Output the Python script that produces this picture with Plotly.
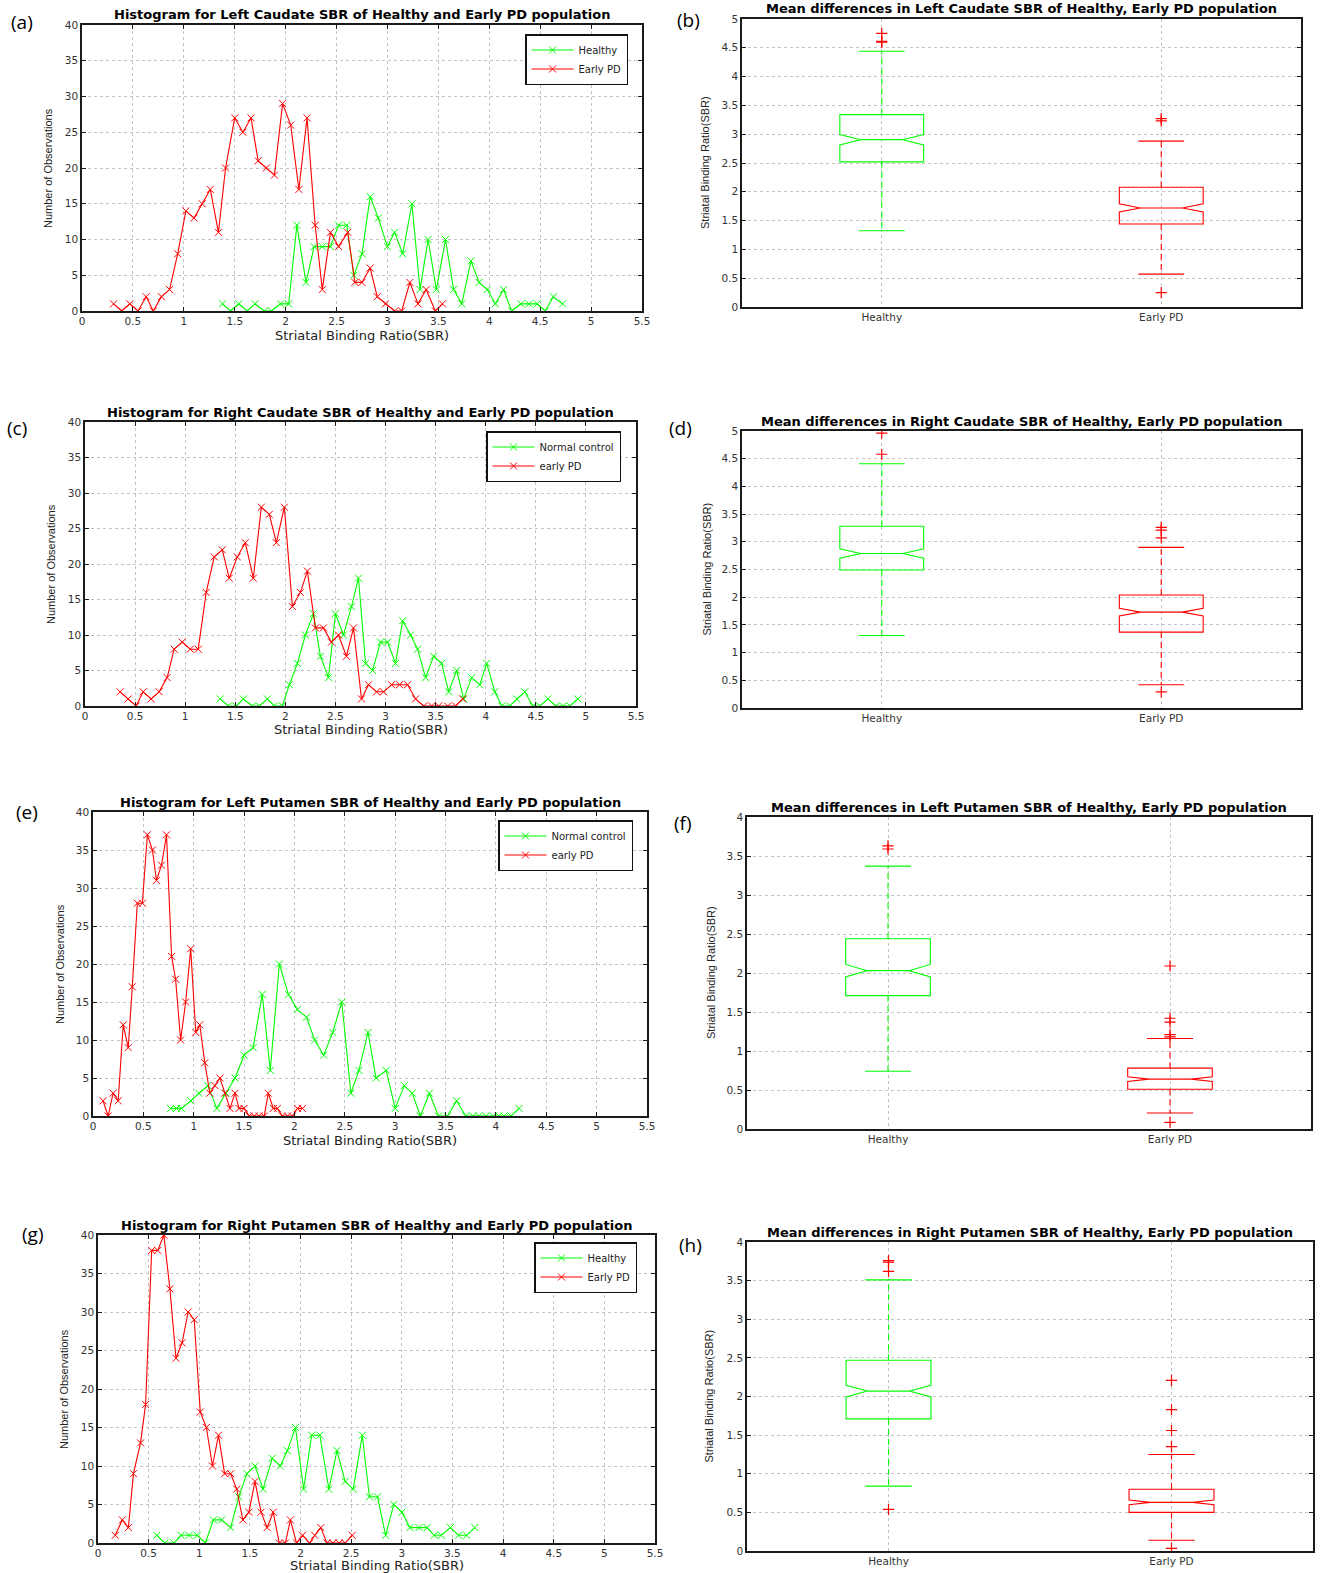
import plotly.graph_objects as go

FIG_W, FIG_H = 1323, 1573
FONT = "Liberation Sans, Arial, sans-serif"
WIDE = "DejaVu Sans, Verdana, sans-serif"
GREEN = "#00ff00"
RED = "#ff0000"

# ---------------- Histogram data (bin centre SBR, counts) ----------------
# (a) Left caudate
a_healthy_x = [1.38, 1.46, 1.54, 1.62, 1.70, 1.79, 1.86, 1.95, 2.03, 2.11, 2.20, 2.28, 2.36, 2.44,
               2.52, 2.60, 2.67, 2.75, 2.83, 2.91, 3.00, 3.07, 3.15, 3.24, 3.32, 3.40, 3.48, 3.57,
               3.65, 3.73, 3.82, 3.90, 3.98, 4.06, 4.14, 4.22, 4.31, 4.39, 4.47, 4.55, 4.63, 4.72]
a_healthy_y = [1, 0, 1, 0, 1, 0, 0, 1, 1, 12, 4, 9, 9, 9, 12, 12, 5, 8, 16, 13, 9, 11, 8, 15, 3,
               10, 3, 10, 3, 1, 7, 4, 3, 1, 3, 0, 1, 1, 1, 0, 2, 1]
a_pd_x = [0.31, 0.39, 0.47, 0.55, 0.63, 0.70, 0.78, 0.86, 0.94, 1.02, 1.10, 1.18, 1.26, 1.34,
          1.41, 1.50, 1.58, 1.66, 1.73, 1.81, 1.89, 1.97, 2.05, 2.13, 2.21, 2.29, 2.36, 2.44,
          2.52, 2.61, 2.68, 2.75, 2.83, 2.90, 2.98, 3.07, 3.14, 3.22, 3.30, 3.38, 3.47, 3.54]
a_pd_y = [1, 0, 1, 0, 2, 0, 2, 3, 8, 14, 13, 15, 17, 11, 20, 27, 25, 27, 21, 20, 19, 29, 26, 17,
          27, 12, 3, 11, 9, 11, 4, 4, 6, 2, 1, 0, 0, 4, 1, 3, 0, 1]

# (c) Right caudate
c_healthy_x = [1.35, 1.43, 1.51, 1.58, 1.67, 1.74, 1.82, 1.89, 1.97, 2.04, 2.12, 2.20, 2.28, 2.35,
               2.43, 2.50, 2.58, 2.66, 2.73, 2.80, 2.87, 2.95, 3.02, 3.10, 3.17, 3.25, 3.32, 3.40,
               3.48, 3.56, 3.63, 3.71, 3.78, 3.86, 3.94, 4.01, 4.09, 4.16, 4.24, 4.31, 4.39, 4.47,
               4.54, 4.62, 4.70, 4.77, 4.84, 4.92]
c_healthy_y = [1, 0, 0, 1, 0, 0, 1, 0, 0, 3, 6, 10, 13, 7, 4, 13, 10, 14, 18, 6, 5, 9, 9, 6, 12,
               10, 8, 4, 7, 6, 2, 5, 1, 4, 3, 6, 2, 0, 0, 1, 2, 0, 0, 1, 0, 0, 0, 1]
c_pd_x = [0.35, 0.43, 0.51, 0.58, 0.66, 0.74, 0.82, 0.89, 0.97, 1.05, 1.13, 1.21, 1.29, 1.37,
          1.44, 1.52, 1.60, 1.68, 1.76, 1.84, 1.91, 1.99, 2.07, 2.15, 2.22, 2.30, 2.38, 2.46,
          2.53, 2.61, 2.68, 2.76, 2.83, 2.91, 2.98, 3.06, 3.14, 3.22, 3.30, 3.38, 3.46, 3.53,
          3.62, 3.70, 3.77]
c_pd_y = [2, 1, 0, 2, 1, 2, 4, 8, 9, 8, 8, 16, 21, 22, 18, 21, 23, 18, 28, 27, 23, 28, 14, 16,
          19, 11, 11, 9, 10, 7, 11, 1, 3, 2, 2, 3, 3, 3, 1, 0, 0, 0, 0, 0, 1]

# (e) Left putamen
e_healthy_x = [0.77, 0.83, 0.88, 0.97, 1.05, 1.14, 1.23, 1.32, 1.41, 1.50, 1.59, 1.68, 1.76, 1.85,
               1.94, 2.03, 2.12, 2.20, 2.29, 2.38, 2.47, 2.56, 2.64, 2.73, 2.81, 2.91, 3.00, 3.09,
               3.17, 3.25, 3.34, 3.43, 3.52, 3.61, 3.70, 3.77, 3.83, 3.90, 3.97, 4.03, 4.08, 4.15,
               4.23]
e_healthy_y = [1, 1, 1, 2, 3, 4, 1, 3, 5, 8, 9, 16, 6, 20, 16, 14, 13, 10, 8, 11, 15, 3, 6, 11, 5,
               6, 1, 4, 3, 0, 3, 0, 0, 2, 0, 0, 0, 0, 0, 0, 0, 0, 1]
e_pd_x = [0.10, 0.15, 0.20, 0.25, 0.30, 0.35, 0.39, 0.44, 0.49, 0.54, 0.59, 0.63, 0.68, 0.73,
          0.78, 0.82, 0.87, 0.92, 0.97, 1.02, 1.06, 1.11, 1.16, 1.21, 1.26, 1.31, 1.36, 1.41,
          1.45, 1.50, 1.55, 1.60, 1.65, 1.70, 1.74, 1.79, 1.83, 1.88, 1.93, 1.98, 2.03, 2.08]
e_pd_y = [2, 0, 3, 2, 12, 9, 17, 28, 28, 37, 35, 31, 33, 37, 21, 18, 10, 15, 22, 11, 12, 7, 3, 4,
          5, 3, 1, 3, 1, 1, 0, 0, 0, 0, 3, 1, 1, 0, 0, 0, 1, 1]

# (g) Right putamen
g_healthy_x = [0.58, 0.66, 0.75, 0.82, 0.90, 0.98, 1.06, 1.14, 1.22, 1.31, 1.39, 1.47, 1.55, 1.63,
               1.72, 1.80, 1.87, 1.95, 2.03, 2.11, 2.19, 2.28, 2.36, 2.44, 2.52, 2.61, 2.68, 2.76,
               2.84, 2.92, 3.00, 3.08, 3.17, 3.25, 3.32, 3.39, 3.48, 3.56, 3.64, 3.72]
g_healthy_y = [1, 0, 0, 1, 1, 1, 0, 3, 3, 2, 6, 9, 10, 7, 11, 10, 12, 15, 7, 14, 14, 7, 12, 8, 7,
               14, 6, 6, 1, 5, 4, 2, 2, 2, 1, 1, 2, 1, 1, 2]
g_pd_x = [0.17, 0.24, 0.30, 0.35, 0.42, 0.47, 0.53, 0.59, 0.65, 0.71, 0.77, 0.83, 0.89, 0.95,
          1.01, 1.07, 1.13, 1.19, 1.25, 1.31, 1.37, 1.43, 1.49, 1.55, 1.61, 1.67, 1.73, 1.79,
          1.85, 1.90, 1.96, 2.02, 2.09, 2.14, 2.20, 2.26, 2.32, 2.38, 2.44, 2.51]
g_pd_y = [1, 3, 2, 9, 13, 18, 38, 38, 40, 33, 24, 26, 30, 29, 17, 15, 10, 14, 9, 9, 7, 3, 4, 8,
          4, 2, 4, 0, 0, 3, 0, 1, 0, 1, 2, 0, 0, 0, 0, 1]

hist_x_ticks = [0, 0.5, 1, 1.5, 2, 2.5, 3, 3.5, 4, 4.5, 5, 5.5]
hist_y_ticks = [0, 5, 10, 15, 20, 25, 30, 35, 40]

# ---------------- Box-plot statistics ----------------
groups = ["Healthy", "Early PD"]
group_pos = [1, 2]

# (b) Left caudate
b_q1 = [2.52, 1.44]
b_med = [2.905, 1.72]
b_q3 = [3.34, 2.08]
b_lo = [1.325, 0.57]
b_hi = [4.44, 2.88]
b_notch = [0.09, 0.07]
b_out_healthy = [4.75, 4.61, 4.60]
b_out_pd = [3.27, 3.23, 0.25]

# (d) Right caudate
d_q1 = [2.49, 1.37]
d_med = [2.79, 1.73]
d_q3 = [3.28, 2.04]
d_lo = [1.31, 0.42]
d_hi = [4.41, 2.90]
d_notch = [0.085, 0.07]
d_out_healthy = [4.96, 4.58]
d_out_pd = [3.26, 3.21, 3.07, 0.29]

# (f) Left putamen
f_q1 = [1.71, 0.51]
f_med = [2.03, 0.64]
f_q3 = [2.44, 0.78]
f_lo = [0.74, 0.205]
f_hi = [3.37, 1.16]
f_notch = [0.08, 0.03]
f_out_healthy = [3.63, 3.59]
f_out_pd = [2.09, 1.42, 1.37, 1.21, 1.18, 0.085]

# (h) Right putamen
h_q1 = [1.71, 0.50]
h_med = [2.07, 0.63]
h_q3 = [2.47, 0.80]
h_lo = [0.84, 0.14]
h_hi = [3.51, 1.25]
h_notch = [0.075, 0.03]
h_out_healthy = [3.76, 3.74, 3.62, 0.54]
h_out_pd = [2.21, 1.83, 1.56, 1.35, 0.035]

box_y_ticks_5 = [0, 0.5, 1, 1.5, 2, 2.5, 3, 3.5, 4, 4.5, 5]
box_y_ticks_4 = [0, 0.5, 1, 1.5, 2, 2.5, 3, 3.5, 4]

# ---------------- Layout geometry (pixels: left, right, top, bottom) ----------------
RECTS = {
    1: (82, 642, 25, 311),
    2: (742, 1301, 19, 307),
    3: (85, 636, 422, 706),
    4: (742, 1301, 431, 708),
    5: (93, 647, 812, 1116),
    6: (747, 1311, 817, 1129),
    7: (98, 655, 1235, 1543),
    8: (747, 1313, 1242, 1551),
}
LABEL_POS = {1: (22, 22), 2: (688, 20), 3: (17, 428), 4: (680, 428),
             5: (27, 812), 6: (683, 823), 7: (33, 1234), 8: (690, 1245)}
LABELS = {1: "(a)", 2: "(b)", 3: "(c)", 4: "(d)", 5: "(e)", 6: "(f)", 7: "(g)", 8: "(h)"}
YTITLE_X = {1: 48, 2: 705, 3: 51, 4: 706, 5: 60, 6: 711, 7: 64, 8: 708}
XTITLE_GAP = {1: 24, 3: 23, 5: 24, 7: 22}

fig = go.Figure()
annotations = []


def px(x):
    return x / FIG_W


def py(y):
    return 1 - y / FIG_H


def axis_names(idx):
    s = "" if idx == 1 else str(idx)
    return "x" + s, "y" + s, "xaxis" + s, "yaxis" + s


def common_axis():
    return dict(
        showline=True, linecolor="#1a1a1a", linewidth=1.5, mirror="ticks",
        ticks="inside", ticklen=4, tickcolor="#1a1a1a",
        showgrid=True, gridcolor="#c4c4c4", gridwidth=1, griddash="dot",
        zeroline=False, automargin=False,
        tickfont=dict(family=WIDE, size=10.5, color="#333333"),
    )


def add_panel_text(idx, title, ytitle, xtitle=None):
    l, r, t, b = RECTS[idx]
    annotations.append(dict(text=title, x=px((l + r) / 2), y=py(t - 10), xref="paper", yref="paper",
                            showarrow=False, xanchor="center", yanchor="middle",
                            font=dict(family=WIDE, size=13, color="black", weight="bold")))
    annotations.append(dict(text=ytitle, x=px(YTITLE_X[idx]), y=py((t + b) / 2), xref="paper",
                            yref="paper", showarrow=False, textangle=-90, xanchor="center",
                            yanchor="middle", font=dict(family=FONT, size=11, color="#222222")))
    if xtitle:
        annotations.append(dict(text=xtitle, x=px((l + r) / 2), y=py(b + XTITLE_GAP[idx]),
                                xref="paper", yref="paper", showarrow=False, xanchor="center",
                                yanchor="middle",
                                font=dict(family=WIDE, size=13, color="#222222")))
    lx, ly = LABEL_POS[idx]
    annotations.append(dict(text=LABELS[idx], x=px(lx), y=py(ly), xref="paper", yref="paper",
                            showarrow=False, xanchor="center", yanchor="middle",
                            font=dict(family="Open Sans, DejaVu Sans, sans-serif", size=19,
                                      color="black")))


def add_hist(idx, title, names, hx, hy, dx, dy, legend_id, legend_inset):
    xa, ya, xkey, ykey = axis_names(idx)
    for nm, xs, ys, col in ((names[0], hx, hy, GREEN), (names[1], dx, dy, RED)):
        fig.add_trace(go.Scatter(
            x=xs, y=ys, mode="lines+markers", name=nm, xaxis=xa, yaxis=ya, legend=legend_id,
            line=dict(color=col, width=1.1),
            marker=dict(symbol="x-thin", size=7, color=col, line=dict(color=col, width=1)),
        ))
    l, r, t, b = RECTS[idx]
    xa_d = common_axis()
    xa_d.update(domain=[px(l), px(r)], anchor=ya, range=[0, 5.5], tickvals=hist_x_ticks)
    ya_d = common_axis()
    ya_d.update(domain=[py(b), py(t)], anchor=xa, range=[0, 40], tickvals=hist_y_ticks)
    fig.layout[xkey] = xa_d
    fig.layout[ykey] = ya_d
    ri, ti = legend_inset
    fig.layout[legend_id] = dict(
        x=px(r - ri), y=py(t + ti), xref="paper", yref="paper", xanchor="right", yanchor="top",
        bgcolor="white", bordercolor="#111111", borderwidth=1.5,
        font=dict(family=WIDE, size=10, color="#222222"),
        tracegroupgap=0, itemwidth=42,
    )
    add_panel_text(idx, title, "Number of Observations", "Striatal Binding Ratio(SBR)")


def add_box(idx, title, q1, med, q3, lo, hi, notch, out_h, out_p, yticks):
    xa, ya, xkey, ykey = axis_names(idx)
    cols = [GREEN, RED]
    outs = [out_h, out_p]
    box_w = 0.30
    cap_half = 0.082
    for i in range(2):
        pos = group_pos[i]
        col = cols[i]
        fig.add_trace(go.Box(
            x=[pos], q1=[q1[i]], median=[med[i]], q3=[q3[i]], lowerfence=[q1[i]],
            upperfence=[q3[i]], notched=True, notchspan=[notch[i]], notchwidth=0.25,
            width=box_w, whiskerwidth=0, boxpoints=False, fillcolor="rgba(0,0,0,0)",
            line=dict(color=col, width=1.1), xaxis=xa, yaxis=ya, showlegend=False,
            hoverinfo="skip",
        ))
        # dashed whiskers
        fig.add_trace(go.Scatter(
            x=[pos, pos, None, pos, pos], y=[q3[i], hi[i], None, q1[i], lo[i]], mode="lines",
            line=dict(color=col, width=1.1, dash="6px,4px"), xaxis=xa, yaxis=ya,
            showlegend=False, hoverinfo="skip",
        ))
        # whisker caps
        fig.add_trace(go.Scatter(
            x=[pos - cap_half, pos + cap_half, None, pos - cap_half, pos + cap_half],
            y=[hi[i], hi[i], None, lo[i], lo[i]], mode="lines",
            line=dict(color=col, width=1.1), xaxis=xa, yaxis=ya,
            showlegend=False, hoverinfo="skip",
        ))
        # outliers
        fig.add_trace(go.Scatter(
            x=[pos] * len(outs[i]), y=outs[i], mode="markers",
            marker=dict(symbol="cross-thin", size=8, color=RED, line=dict(color=RED, width=1.2)),
            xaxis=xa, yaxis=ya, showlegend=False, hoverinfo="skip",
        ))
    l, r, t, b = RECTS[idx]
    xa_d = common_axis()
    xa_d.update(domain=[px(l), px(r)], anchor=ya, range=[0.5, 2.5], tickvals=group_pos,
                ticktext=groups, ticks="")
    ya_d = common_axis()
    ya_d.update(domain=[py(b), py(t)], anchor=xa, range=[0, yticks[-1]], tickvals=yticks)
    fig.layout[xkey] = xa_d
    fig.layout[ykey] = ya_d
    add_panel_text(idx, title, "Striatal Binding Ratio(SBR)")


add_hist(1, "Histogram for Left Caudate SBR of Healthy and Early PD population",
         ["Healthy", "Early PD"], a_healthy_x, a_healthy_y, a_pd_x, a_pd_y, "legend", (14, 9))
add_hist(3, "Histogram for Right Caudate SBR of Healthy and Early PD population",
         ["Normal control", "early PD"], c_healthy_x, c_healthy_y, c_pd_x, c_pd_y, "legend2",
         (15, 9))
add_hist(5, "Histogram for Left Putamen SBR of Healthy and Early PD population",
         ["Normal control", "early PD"], e_healthy_x, e_healthy_y, e_pd_x, e_pd_y, "legend3",
         (14, 8))
add_hist(7, "Histogram for Right Putamen SBR of Healthy and Early PD population",
         ["Healthy", "Early PD"], g_healthy_x, g_healthy_y, g_pd_x, g_pd_y, "legend4", (18, 7))

add_box(2, "Mean differences in Left Caudate SBR of Healthy, Early PD population",
        b_q1, b_med, b_q3, b_lo, b_hi, b_notch, b_out_healthy, b_out_pd, box_y_ticks_5)
add_box(4, "Mean differences in Right Caudate SBR of Healthy, Early PD population",
        d_q1, d_med, d_q3, d_lo, d_hi, d_notch, d_out_healthy, d_out_pd, box_y_ticks_5)
add_box(6, "Mean differences in Left Putamen SBR of Healthy, Early PD population",
        f_q1, f_med, f_q3, f_lo, f_hi, f_notch, f_out_healthy, f_out_pd, box_y_ticks_4)
add_box(8, "Mean differences in Right Putamen SBR of Healthy, Early PD population",
        h_q1, h_med, h_q3, h_lo, h_hi, h_notch, h_out_healthy, h_out_pd, box_y_ticks_4)

fig.update_layout(
    width=FIG_W, height=FIG_H, margin=dict(l=0, r=0, t=0, b=0, autoexpand=False),
    paper_bgcolor="white", plot_bgcolor="white",
    font=dict(family=FONT, color="#222222"),
    annotations=annotations,
)

# remove the browser's default body margin so the figure fills the window exactly
fig.write_html("out.html", config={"displayModeBar": False},
               post_script="document.body.style.margin='0px';")
